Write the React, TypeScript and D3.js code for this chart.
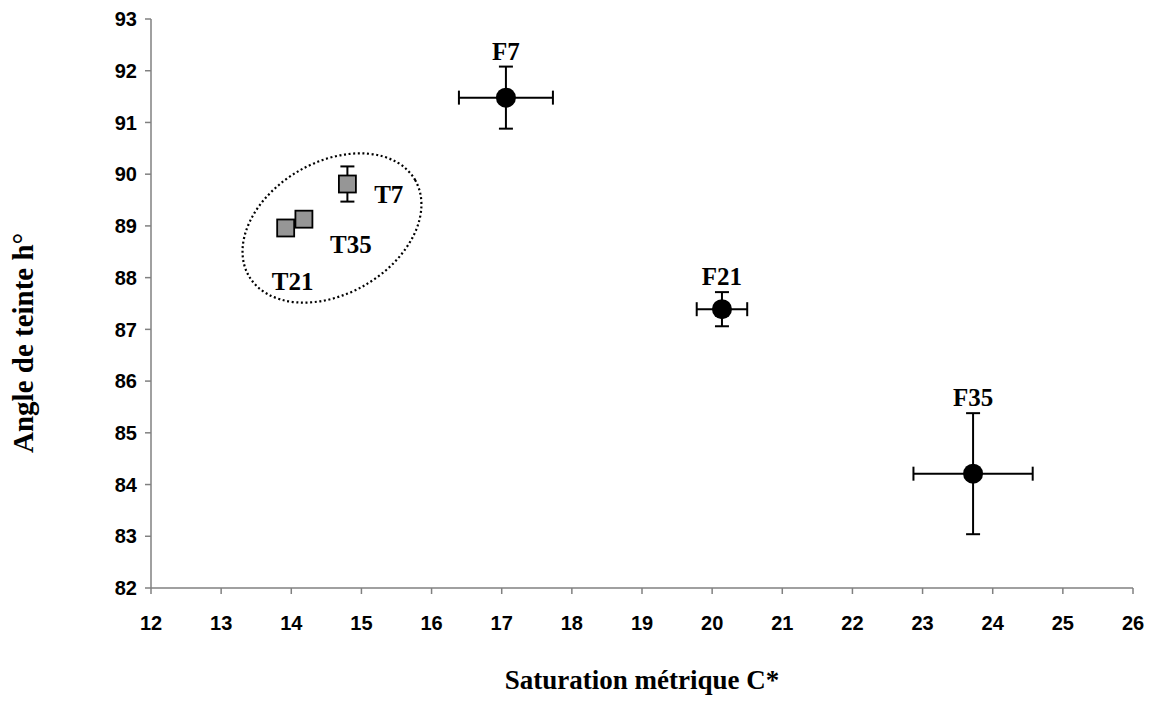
import React from "react";
import * as d3 from "d3";

const xTicks = [12, 13, 14, 15, 16, 17, 18, 19, 20, 21, 22, 23, 24, 25, 26];
const yTicks = [82, 83, 84, 85, 86, 87, 88, 89, 90, 91, 92, 93];

// Fresh samples (circles)
const fNames = ["F7", "F21", "F35"];
const fX = [17.06, 20.14, 23.72];
const fY = [91.48, 87.39, 84.21];
const fXErr = [0.67, 0.36, 0.85];
const fYErr = [0.6, 0.33, 1.17];

// Treated samples (squares)
const tNames = ["T21", "T35", "T7"];
const tX = [13.92, 14.18, 14.8];
const tY = [88.96, 89.13, 89.81];
const tYErr = [0, 0, 0.34];

// Label anchor positions (data units, baseline) for the T labels
const tLabelX = [14.02, 14.85, 15.39];
const tLabelY = [87.76, 88.47, 89.45];

const W = 1151;
const H = 707;
const M = { left: 151, right: 18, top: 19, bottom: 119 };

export default function App() {
  const x = d3.scaleLinear().domain([12, 26]).range([M.left, W - M.right]);
  const y = d3.scaleLinear().domain([82, 93]).range([H - M.bottom, M.top]);
  const cap = 7;
  const axisColor = "#808080";
  const tickFont = "'Liberation Sans', Arial, sans-serif";
  const serif = "'Liberation Serif', 'Times New Roman', serif";

  const ellCx = x(14.58);
  const ellCy = y(88.96);

  return (
    <svg
      width={W}
      height={H}
      style={{ position: "absolute", left: 0, top: 0, background: "#fff" }}
    >
      {/* axes */}
      <line x1={x(12)} x2={x(12)} y1={y(93)} y2={y(82)} stroke={axisColor} strokeWidth={1.5} />
      <line x1={x(12)} x2={x(26)} y1={y(82)} y2={y(82)} stroke={axisColor} strokeWidth={1.5} />
      {yTicks.map((t) => (
        <g key={"y" + t}>
          <line x1={x(12) - 6} x2={x(12)} y1={y(t)} y2={y(t)} stroke={axisColor} strokeWidth={1.5} />
          <text
            x={x(12) - 14}
            y={y(t)}
            dy="0.36em"
            textAnchor="end"
            fontFamily={tickFont}
            fontWeight="bold"
            fontSize={20}
            fill="#000"
          >
            {t}
          </text>
        </g>
      ))}
      {xTicks.map((t) => (
        <g key={"x" + t}>
          <line x1={x(t)} x2={x(t)} y1={y(82)} y2={y(82) + 6} stroke={axisColor} strokeWidth={1.5} />
          <text
            x={x(t)}
            y={y(82) + 42}
            textAnchor="middle"
            fontFamily={tickFont}
            fontWeight="bold"
            fontSize={20}
            fill="#000"
          >
            {t}
          </text>
        </g>
      ))}

      {/* axis titles */}
      <text
        x={642}
        y={689}
        textAnchor="middle"
        fontFamily={serif}
        fontWeight="bold"
        fontSize={27}
        fill="#000"
      >
        Saturation métrique C*
      </text>
      <text
        transform={`translate(33, 453) rotate(-90)`}
        textAnchor="start"
        fontFamily={serif}
        fontWeight="bold"
        fontSize={29}
        fill="#000"
      >
        Angle de teinte h°
      </text>

      {/* dotted ellipse */}
      <ellipse
        cx={ellCx}
        cy={ellCy}
        rx={96}
        ry={66}
        transform={`rotate(-30, ${ellCx}, ${ellCy})`}
        fill="none"
        stroke="#000"
        strokeWidth={2.2}
        strokeDasharray="2 2.6"
      />

      {/* T squares */}
      {tNames.map((n, i) => (
        <g key={n}>
          {tYErr[i] > 0 && (
            <g stroke="#000" strokeWidth={2}>
              <line x1={x(tX[i])} x2={x(tX[i])} y1={y(tY[i] - tYErr[i])} y2={y(tY[i] + tYErr[i])} />
              <line x1={x(tX[i]) - cap} x2={x(tX[i]) + cap} y1={y(tY[i] + tYErr[i])} y2={y(tY[i] + tYErr[i])} />
              <line x1={x(tX[i]) - cap} x2={x(tX[i]) + cap} y1={y(tY[i] - tYErr[i])} y2={y(tY[i] - tYErr[i])} />
            </g>
          )}
          <rect
            x={x(tX[i]) - 8.5}
            y={y(tY[i]) - 8.5}
            width={17}
            height={17}
            fill="#969696"
            stroke="#000"
            strokeWidth={1.8}
          />
        </g>
      ))}
      {tNames.map((n, i) => (
        <text
          key={"tl" + n}
          x={x(tLabelX[i])}
          y={y(tLabelY[i])}
          textAnchor="middle"
          fontFamily={serif}
          fontWeight="bold"
          fontSize={25}
          fill="#000"
        >
          {n}
        </text>
      ))}

      {/* F circles with error bars */}
      {fNames.map((n, i) => {
        const cx = x(fX[i]);
        const cy = y(fY[i]);
        const x0 = x(fX[i] - fXErr[i]);
        const x1 = x(fX[i] + fXErr[i]);
        const y0 = y(fY[i] - fYErr[i]);
        const y1 = y(fY[i] + fYErr[i]);
        return (
          <g key={n}>
            <g stroke="#000" strokeWidth={2}>
              <line x1={x0} x2={x1} y1={cy} y2={cy} />
              <line x1={x0} x2={x0} y1={cy - cap} y2={cy + cap} />
              <line x1={x1} x2={x1} y1={cy - cap} y2={cy + cap} />
              <line x1={cx} x2={cx} y1={y0} y2={y1} />
              <line x1={cx - cap} x2={cx + cap} y1={y0} y2={y0} />
              <line x1={cx - cap} x2={cx + cap} y1={y1} y2={y1} />
            </g>
            <circle cx={cx} cy={cy} r={10} fill="#000" />
            <text
              x={cx}
              y={y1 - 7}
              textAnchor="middle"
              fontFamily={serif}
              fontWeight="bold"
              fontSize={25}
              fill="#000"
            >
              {n}
            </text>
          </g>
        );
      })}
    </svg>
  );
}
